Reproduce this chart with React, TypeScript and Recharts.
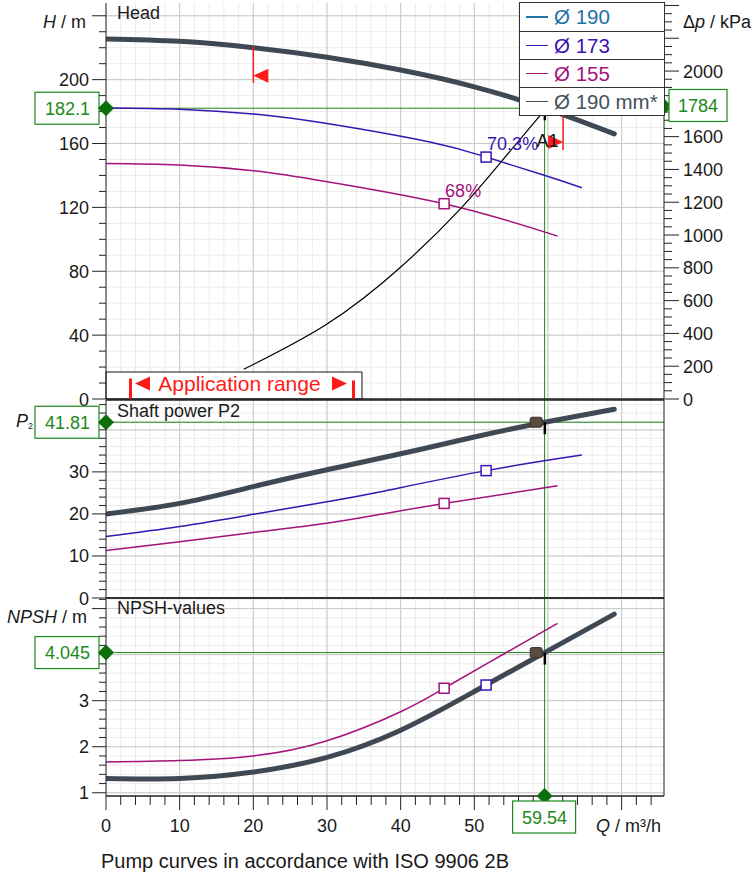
import React from "react";
import { LineChart, Line, XAxis, YAxis, ReferenceLine, ReferenceDot, ReferenceArea } from "recharts";

const GREEN = "#1b8a1b";
const GREEN_DARK = "#0b700b";
const C190 = "#3f4954";
const C173 = "#3a14b2";
const C155 = "#a3147b";
const RED = "#ff1a1a";
const GRID_MINOR = "#ececec";
const GRID_MAJOR = "#c9c9c9";
const FONT = "'Liberation Sans', Arial, Helvetica, sans-serif";

const Q_MAX = 75.75;
const H_MAX = 248;
const DP_MAX = 2415;
const P_MAX = 47.1;
const N_MIN = 0.93;
const N_MAX = 5.23;

// head H / m
const qHead190 = [0, 10, 20, 30, 40, 50, 59.54, 69];
const head190 = [225.5, 224, 220, 214, 206, 195.5, 182.1, 166];
const qHead173 = [0, 10, 20, 30, 44.1, 51.6, 59.6, 64.6];
const head173 = [182.3, 181.5, 178.5, 172.5, 160.8, 151.5, 140, 132.3];
const qHead155 = [0, 10, 20, 28.2, 45.9, 61.3];
const head155 = [147.5, 146.5, 143, 137.5, 122.3, 102];
const qSystem = [18.7, 30, 40.1, 48.2, 53.8, 59.2];
const headSystem = [18.6, 46.9, 83, 119.5, 149.4, 179];

// shaft power P2 / kW
const qPow190 = [0, 10, 20, 30, 40, 50, 59.54, 69];
const pow190 = [20, 22.5, 26.5, 30.5, 34.3, 38.3, 41.81, 44.9];
const qPow173 = [0, 10, 20, 30, 37.3, 51.6, 64.6];
const pow173 = [14.6, 17.0, 19.9, 22.9, 25.3, 30.3, 34.0];
const qPow155 = [0, 10, 20, 30, 37.3, 45.9, 61.3];
const pow155 = [11.3, 13.4, 15.6, 17.8, 19.9, 22.5, 26.7];

// NPSH / m
const qNpsh190 = [0, 10, 20, 30, 40, 50, 59.54, 69];
const npsh190 = [1.31, 1.31, 1.45, 1.77, 2.36, 3.2, 4.045, 4.88];
const qNpsh155 = [0, 10, 20, 30, 40, 45.9, 53.4, 61.3];
const npsh155 = [1.67, 1.7, 1.8, 2.13, 2.76, 3.27, 3.96, 4.68];

// duty point A1
const dutyQ = 59.54;
const dutyHead = 182.1;
const dutyDp = 1784;
const dutyPower = 41.81;
const dutyNpsh = 4.045;
const dutyMarkQ = 58.4;

// best efficiency markers (Ø 173, Ø 155)
const effQ = [51.6, 45.9];
const effHead = [151.5, 122.3];
const effPower = [30.3, 22.5];
const effNpsh = [3.34, 3.27];
const effLabels = ["70.3%", "68%"];
const effColors = [C173, C155];

// application range
const rangeQ = [20, 62.05];
const rangeLineTop = [221, 178];
const rangeLineBottom = [198, 156];
const rangeArrowHead = [202.5, 161];
const appBoxQ = 34.75;
const appBoxH = 16.9;

const legendItems = [
  { name: "Ø 190", color: "#1f72a6" },
  { name: "Ø 173", color: C173 },
  { name: "Ø 155", color: C155 },
  { name: "Ø 190 mm*", color: "#46505a" },
];

const qLabels = [0, 10, 20, 30, 40, 50];
const headLabels = [0, 40, 80, 120, 160, 200];
const dpLabels = [0, 200, 400, 600, 800, 1000, 1200, 1400, 1600, 2000];
const powerLabels = [0, 10, 20, 30];
const npshLabels = [1, 2, 3];

const steps = (from: number, to: number, step: number) => {
  const out: number[] = [];
  for (let v = from; v <= to + 1e-9; v += step) out.push(Math.round(v * 1000) / 1000);
  return out;
};
const rows = (q: number[], v: number[]) => q.map((x, i) => ({ q: x, v: v[i] }));
const near = (a: number, b: number) => Math.abs(a - b) < 1e-6;
const isMultiple = (v: number, step: number) => near(v / step, Math.round(v / step));

const qTicks = steps(0, 74, 2);
const hTicks = steps(0, 240, 10);
const dpTicks = steps(0, 2400, 50);
const pTicks = steps(0, 46, 2);
const nTicks = steps(1, 5.2, 0.2);

const leftTick = (labels: number[], major: number) => (p: any) => {
  const { x, y } = p;
  const v = p.payload.value;
  const long = isMultiple(v, major);
  return (
    <g>
      <line x1={x - (long ? 14 : 7)} x2={x} y1={y} y2={y} stroke="#222" />
      {labels.some((l) => near(l, v)) && (
        <text x={x - 17} y={y + 6.5} textAnchor="end" fontSize={18} fill="#1a1a1a">
          {v}
        </text>
      )}
    </g>
  );
};

const rightTick = (labels: number[], major: number) => (p: any) => {
  const { x, y } = p;
  const v = p.payload.value;
  const long = isMultiple(v, major);
  return (
    <g>
      <line x1={x} x2={x + (long ? 15 : 8)} y1={y} y2={y} stroke="#222" />
      {labels.some((l) => near(l, v)) && (
        <text x={x + 19} y={y + 6.5} textAnchor="start" fontSize={18} fill="#1a1a1a">
          {v}
        </text>
      )}
    </g>
  );
};

const bottomTick = (p: any) => {
  const { x, y } = p;
  const v = p.payload.value;
  const long = isMultiple(v, 10);
  return (
    <g>
      <line x1={x} x2={x} y1={y} y2={y + (long ? 14 : 9)} stroke="#222" />
      {qLabels.some((l) => near(l, v)) && (
        <text x={x} y={y + 36} textAnchor="middle" fontSize={18} fill="#1a1a1a">
          {v}
        </text>
      )}
    </g>
  );
};

const grid = (minorY: number[], majorY: number[]) => [
  ...qTicks.map((v) => <ReferenceLine key={`mx${v}`} x={v} yAxisId="l" stroke={GRID_MINOR} zIndex={-100} />),
  ...minorY.map((v) => <ReferenceLine key={`my${v}`} y={v} yAxisId="l" stroke={GRID_MINOR} zIndex={-100} />),
  ...steps(10, 70, 10).map((v) => <ReferenceLine key={`Mx${v}`} x={v} yAxisId="l" stroke={GRID_MAJOR} zIndex={-90} />),
  ...majorY.map((v) => <ReferenceLine key={`My${v}`} y={v} yAxisId="l" stroke={GRID_MAJOR} zIndex={-90} />),
];

const Diamond = ({ cx, cy }: { cx: number; cy: number }) => (
  <polygon points={`${cx},${cy - 8} ${cx + 8},${cy} ${cx},${cy + 8} ${cx - 8},${cy}`} fill={GREEN_DARK} />
);

const leftTag = (text: string) => (p: any) => (
  <g>
    <rect x={p.cx - 71} y={p.cy - 16} width={64} height={32} fill="#fff" stroke={GREEN} strokeWidth={1.2} />
    <text x={p.cx - 16} y={p.cy + 6.5} textAnchor="end" fontSize={18} fill={GREEN}>
      {text}
    </text>
    <Diamond cx={p.cx} cy={p.cy} />
  </g>
);

const rightTag = (text: string) => (p: any) => (
  <g>
    <Diamond cx={p.cx} cy={p.cy} />
    <rect x={p.cx + 5} y={p.cy - 17} width={58} height={32} fill="#fff" stroke={GREEN} strokeWidth={1.2} />
    <text x={p.cx + 34} y={p.cy + 5.5} textAnchor="middle" fontSize={18} fill={GREEN}>
      {text}
    </text>
  </g>
);

const bottomTag = (text: string) => (p: any) => (
  <g>
    <Diamond cx={p.cx} cy={p.cy} />
    <rect x={p.cx - 32} y={p.cy + 5} width={63} height={32} fill="#fff" stroke={GREEN} strokeWidth={1.2} />
    <text x={p.cx} y={p.cy + 27.5} textAnchor="middle" fontSize={18} fill={GREEN}>
      {text}
    </text>
  </g>
);

const square = (color: string, label?: string) => (p: any) => (
  <g>
    <rect x={p.cx - 5} y={p.cy - 5} width={10} height={10} fill="#fff" stroke={color} strokeWidth={1.5} />
    {label && (
      <text x={p.cx + 1} y={p.cy - 7} fontSize={18} fill={color}>
        {label}
      </text>
    )}
  </g>
);

const dutySquare = (p: any) => (
  <rect x={p.cx - 6} y={p.cy - 5} width={12} height={10} rx={2} fill="#5a4a40" stroke="#3c322b" strokeWidth={1} />
);

const dutyFlag = (label?: string) => (p: any) => (
  <g>
    <rect x={p.cx - 1} y={p.cy} width={2.5} height={12} fill="#000" />
    {label && (
      <text x={p.cx + 3} y={p.cy + 39} textAnchor="middle" fontSize={18} fill="#111">
        {label}
      </text>
    )}
  </g>
);

const arrowLeft = (p: any) => (
  <polygon points={`${p.cx},${p.cy} ${p.cx + 15},${p.cy - 7} ${p.cx + 15},${p.cy + 7}`} fill={RED} />
);
const arrowRight = (p: any) => (
  <polygon points={`${p.cx},${p.cy} ${p.cx - 15},${p.cy - 7} ${p.cx - 15},${p.cy + 7}`} fill={RED} />
);

const appRangeLabel = (p: any) => {
  const { cx, cy } = p;
  return (
    <g>
      <rect x={cx - 105} y={cy - 7} width={3} height={20} fill={RED} />
      <polygon points={`${cx - 99},${cy - 2} ${cx - 84},${cy - 9} ${cx - 84},${cy + 5}`} fill={RED} />
      <text x={cx + 5.5} y={cy + 5} textAnchor="middle" fontSize={21} fill={RED}>
        Application range
      </text>
      <polygon points={`${cx + 113},${cy - 2} ${cx + 98},${cy - 9} ${cx + 98},${cy + 5}`} fill={RED} />
      <rect x={cx + 118} y={cy - 5} width={3} height={18} fill={RED} />
    </g>
  );
};

function HeadChart() {
  return (
    <LineChart width={753} height={420} margin={{ top: 3, right: 29, bottom: 21, left: 46 }}>
      <XAxis type="number" dataKey="q" domain={[0, Q_MAX]} allowDataOverflow hide />
      <YAxis yAxisId="l" type="number" domain={[0, H_MAX]} allowDataOverflow ticks={hTicks} interval={0}
        tick={leftTick(headLabels, 40)} tickSize={0} tickMargin={0} tickLine={false} axisLine={{ stroke: "#222" }} width={60} />
      <YAxis yAxisId="r" orientation="right" type="number" domain={[0, DP_MAX]} allowDataOverflow ticks={dpTicks} interval={0}
        tick={rightTick(dpLabels, 200)} tickSize={0} tickMargin={0} tickLine={false} axisLine={{ stroke: "#222" }} width={60} />
      {grid(hTicks, steps(40, 240, 40))}
      <ReferenceArea yAxisId="l" x1={0} x2={appBoxQ} y1={0} y2={appBoxH} fill="#fff" fillOpacity={1} stroke="#111" zIndex={50} />
      <ReferenceLine yAxisId="l" y={dutyHead} stroke={GREEN} />
      <ReferenceLine yAxisId="l" x={dutyQ} stroke={GREEN} />
      <Line yAxisId="l" type="natural" dataKey="v" data={rows(qHead155, head155)} stroke={C155} strokeWidth={1.5} dot={false} activeDot={false} isAnimationActive={false} />
      <Line yAxisId="l" type="natural" dataKey="v" data={rows(qHead173, head173)} stroke={C173} strokeWidth={1.5} dot={false} activeDot={false} isAnimationActive={false} />
      <Line yAxisId="l" type="natural" dataKey="v" data={rows(qSystem, headSystem)} stroke="#000" strokeWidth={1.2} dot={false} activeDot={false} isAnimationActive={false} />
      <Line yAxisId="l" type="natural" dataKey="v" data={rows(qHead190, head190)} stroke={C190} strokeWidth={5} strokeLinecap="round" dot={false} activeDot={false} isAnimationActive={false} />
      <ReferenceLine yAxisId="l" y={0} stroke="#222" strokeWidth={1.5} />
      {rangeQ.map((q, i) => (
        <ReferenceLine key={`rl${i}`} yAxisId="l" segment={[{ x: q, y: rangeLineTop[i] }, { x: q, y: rangeLineBottom[i] }]} stroke={RED} strokeWidth={1.5} />
      ))}
      <ReferenceDot yAxisId="l" x={rangeQ[0]} y={rangeArrowHead[0]} ifOverflow="visible" shape={arrowLeft} />
      <ReferenceDot yAxisId="l" x={rangeQ[1]} y={rangeArrowHead[1]} ifOverflow="visible" shape={arrowRight} />
      {effQ.map((q, i) => (
        <ReferenceDot key={`eh${i}`} yAxisId="l" x={q} y={effHead[i]} ifOverflow="visible" shape={square(effColors[i], effLabels[i])} />
      ))}
      <ReferenceDot yAxisId="l" x={appBoxQ / 2} y={appBoxH / 2} ifOverflow="visible" shape={appRangeLabel} />
      <ReferenceDot yAxisId="l" x={dutyQ} y={dutyHead} ifOverflow="visible" shape={dutyFlag("A1")} />
      <ReferenceDot yAxisId="l" x={0} y={dutyHead} ifOverflow="visible" shape={leftTag(String(dutyHead))} zIndex={3000} />
      <ReferenceDot yAxisId="r" x={Q_MAX} y={dutyDp} ifOverflow="visible" shape={rightTag(String(dutyDp))} zIndex={3000} />
    </LineChart>
  );
}

function PowerChart() {
  return (
    <LineChart width={753} height={240} margin={{ top: 20, right: 89, bottom: 22, left: 46 }}>
      <XAxis type="number" dataKey="q" domain={[0, Q_MAX]} allowDataOverflow hide />
      <YAxis yAxisId="l" type="number" domain={[0, P_MAX]} allowDataOverflow ticks={pTicks} interval={0}
        tick={leftTick(powerLabels, 10)} tickSize={0} tickMargin={0} tickLine={false} axisLine={{ stroke: "#222" }} width={60} />
      {grid(pTicks, [10, 20, 30, 40])}
      <ReferenceLine yAxisId="l" y={dutyPower} stroke={GREEN} />
      <ReferenceLine yAxisId="l" x={dutyQ} stroke={GREEN} />
      <Line yAxisId="l" type="natural" dataKey="v" data={rows(qPow155, pow155)} stroke={C155} strokeWidth={1.5} dot={false} activeDot={false} isAnimationActive={false} />
      <Line yAxisId="l" type="natural" dataKey="v" data={rows(qPow173, pow173)} stroke={C173} strokeWidth={1.5} dot={false} activeDot={false} isAnimationActive={false} />
      <Line yAxisId="l" type="natural" dataKey="v" data={rows(qPow190, pow190)} stroke={C190} strokeWidth={5} strokeLinecap="round" dot={false} activeDot={false} isAnimationActive={false} />
      <ReferenceLine yAxisId="l" y={0} stroke="#222" strokeWidth={1.5} />
      <ReferenceLine yAxisId="l" y={P_MAX} stroke="#222" strokeWidth={1.5} />
      <ReferenceLine yAxisId="l" x={Q_MAX} stroke="#222" />
      {effQ.map((q, i) => (
        <ReferenceDot key={`ep${i}`} yAxisId="l" x={q} y={effPower[i]} ifOverflow="visible" shape={square(effColors[i])} />
      ))}
      <ReferenceDot yAxisId="l" x={dutyMarkQ} y={dutyPower} ifOverflow="visible" shape={dutySquare} />
      <ReferenceDot yAxisId="l" x={dutyQ} y={dutyPower} ifOverflow="visible" shape={dutyFlag()} />
      <ReferenceDot yAxisId="l" x={0} y={dutyPower} ifOverflow="visible" shape={leftTag(String(dutyPower))} zIndex={3000} />
    </LineChart>
  );
}

function NpshChart() {
  return (
    <LineChart width={753} height={299} margin={{ top: 20, right: 89, bottom: 0, left: 46 }}>
      <XAxis type="number" dataKey="q" domain={[0, Q_MAX]} allowDataOverflow ticks={qTicks} interval={0}
        tick={bottomTick} tickSize={0} tickMargin={0} tickLine={false} axisLine={{ stroke: "#222", strokeWidth: 1.5 }} height={81} />
      <YAxis yAxisId="l" type="number" domain={[N_MIN, N_MAX]} allowDataOverflow ticks={nTicks} interval={0}
        tick={leftTick(npshLabels, 1)} tickSize={0} tickMargin={0} tickLine={false} axisLine={{ stroke: "#222" }} width={60} />
      {grid(nTicks, [1, 2, 3, 4, 5])}
      <ReferenceLine yAxisId="l" y={dutyNpsh} stroke={GREEN} />
      <ReferenceLine yAxisId="l" x={dutyQ} stroke={GREEN} />
      <Line yAxisId="l" type="natural" dataKey="v" data={rows(qNpsh155, npsh155)} stroke={C155} strokeWidth={1.5} dot={false} activeDot={false} isAnimationActive={false} />
      <Line yAxisId="l" type="natural" dataKey="v" data={rows(qNpsh190, npsh190)} stroke={C190} strokeWidth={5} strokeLinecap="round" dot={false} activeDot={false} isAnimationActive={false} />
      <ReferenceLine yAxisId="l" y={N_MAX} stroke="#222" strokeWidth={1.5} />
      <ReferenceLine yAxisId="l" x={Q_MAX} stroke="#222" />
      {effQ.map((q, i) => (
        <ReferenceDot key={`en${i}`} yAxisId="l" x={q} y={effNpsh[i]} ifOverflow="visible" shape={square(effColors[i])} />
      ))}
      <ReferenceDot yAxisId="l" x={dutyMarkQ} y={dutyNpsh} ifOverflow="visible" shape={dutySquare} />
      <ReferenceDot yAxisId="l" x={dutyQ} y={dutyNpsh} ifOverflow="visible" shape={dutyFlag()} />
      <ReferenceDot yAxisId="l" x={0} y={dutyNpsh} ifOverflow="visible" shape={leftTag(String(dutyNpsh))} zIndex={3000} />
      <ReferenceDot yAxisId="l" x={dutyQ} y={N_MIN} ifOverflow="visible" shape={bottomTag(String(dutyQ))} zIndex={3000} />
    </LineChart>
  );
}

function Legend() {
  return (
    <div style={{ position: "absolute", left: 519, top: 2, width: 146, boxSizing: "border-box", border: "1px solid #333", background: "#fff" }}>
      {legendItems.map((it, i) => (
        <div key={it.name} style={{ height: 28, boxSizing: "border-box", borderTop: i ? "1px solid #333" : "none", display: "flex", alignItems: "center", fontSize: 20.5, color: it.color }}>
          <span style={{ display: "inline-block", width: 22, height: 1.5, background: it.color, marginLeft: 6, marginRight: 6 }} />
          <span>{it.name}</span>
        </div>
      ))}
    </div>
  );
}

export default function App() {
  return (
    <div style={{ position: "absolute", left: 0, top: 0, width: 753, height: 877, background: "#fff", fontFamily: FONT, overflow: "hidden" }}>
      <div style={{ position: "absolute", left: 0, top: 0 }}>
        <HeadChart />
      </div>
      <div style={{ position: "absolute", left: 0, top: 380 }}>
        <PowerChart />
      </div>
      <div style={{ position: "absolute", left: 0, top: 578 }}>
        <NpshChart />
      </div>
      <svg width={753} height={877} style={{ position: "absolute", left: 0, top: 0, pointerEvents: "none" }} fontFamily={FONT} fill="#1a1a1a">
        <text x={117} y={19} fontSize={18}>Head</text>
        <text x={117} y={417} fontSize={18}>Shaft power P2</text>
        <text x={117} y={614} fontSize={18}>NPSH-values</text>
        <text x={86} y={28} fontSize={18} textAnchor="end">
          <tspan fontStyle="italic">H</tspan> / m
        </text>
        <text x={683} y={28} fontSize={18}>
          Δ<tspan fontStyle="italic">p</tspan> / kPa
        </text>
        <text x={16} y={427} fontSize={18}>
          <tspan fontStyle="italic">P</tspan>
          <tspan fontSize={9} dy={2}>2</tspan>
        </text>
        <text x={7} y={623} fontSize={18}>
          <tspan fontStyle="italic">NPSH</tspan> / m
        </text>
        <text x={596} y={832} fontSize={18}>
          <tspan fontStyle="italic">Q</tspan> / m³/h
        </text>
        <text x={101} y={868} fontSize={20}>Pump curves in accordance with ISO 9906 2B</text>
      </svg>
      <Legend />
    </div>
  );
}
